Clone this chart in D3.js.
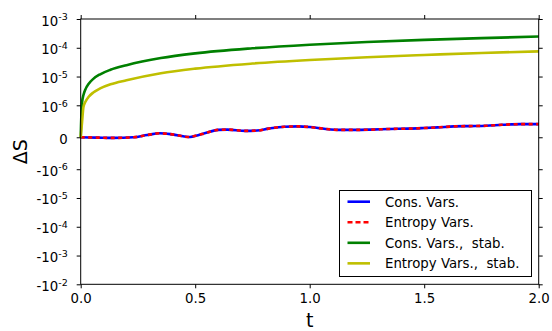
<!DOCTYPE html>
<html><head><meta charset="utf-8">
<script src="https://cdn.jsdelivr.net/npm/d3@7"></script>
<style>
body{margin:0;background:#fff}
text{font-family:"DejaVu Sans",sans-serif}
</style></head>
<body><svg id="c" width="552" height="331"></svg>
<script>
// ---- data ----
const tOsc = [0, 0.07, 0.14, 0.23, 0.29, 0.345, 0.4, 0.47, 0.53, 0.6, 0.64, 0.72, 0.77, 0.82, 0.89, 0.95, 1.0, 1.07, 1.14, 1.2, 1.27, 1.35, 1.43, 1.5, 1.56, 1.63, 1.7, 1.77, 1.84, 1.92, 2.0];
const consVars = [0, -0.01e-6, -0.02e-6, 0.0, 0.07e-6, 0.125e-6, 0.09e-6, 0.01e-6, 0.1e-6, 0.23e-6, 0.24e-6, 0.2e-6, 0.21e-6, 0.27e-6, 0.33e-6, 0.34e-6, 0.32e-6, 0.26e-6, 0.23e-6, 0.23e-6, 0.24e-6, 0.26e-6, 0.27e-6, 0.29e-6, 0.31e-6, 0.34e-6, 0.35e-6, 0.36e-6, 0.39e-6, 0.41e-6, 0.41e-6];
const entropyVars = [0, -0.01e-6, -0.02e-6, 0.0, 0.07e-6, 0.125e-6, 0.09e-6, 0.01e-6, 0.1e-6, 0.23e-6, 0.24e-6, 0.2e-6, 0.21e-6, 0.27e-6, 0.33e-6, 0.34e-6, 0.32e-6, 0.26e-6, 0.23e-6, 0.23e-6, 0.24e-6, 0.26e-6, 0.27e-6, 0.29e-6, 0.31e-6, 0.34e-6, 0.35e-6, 0.36e-6, 0.39e-6, 0.41e-6, 0.41e-6];
const tStab = [0, 0.0015, 0.003, 0.006, 0.012, 0.02, 0.035, 0.055, 0.085, 0.13, 0.2, 0.35, 0.5, 0.75, 1.0, 1.25, 1.5, 1.75, 2.0];
const consVarsStab = [0, 4e-7, 7e-7, 1.26e-6, 2.27e-6, 3.5e-6, 5.6e-6, 8.3e-6, 1.2e-5, 1.72e-5, 2.48e-5, 4.4e-5, 6.4e-5, 9.6e-5, 1.28e-4, 1.58e-4, 1.88e-4, 2.17e-4, 2.45e-4];
const entropyVarsStab = [0, 1.2e-7, 2.4e-7, 4.8e-7, 9.5e-7, 1.3e-6, 1.98e-6, 2.79e-6, 3.87e-6, 5.35e-6, 7.4e-6, 1.3e-5, 1.88e-5, 2.83e-5, 3.77e-5, 4.7e-5, 5.6e-5, 6.6e-5, 7.5e-5];
const xTicks = [0, 0.5, 1.0, 1.5, 2.0];
const yTicks = [1e-3, 1e-4, 1e-5, 1e-6, 0, -1e-6, -1e-5, -1e-4, -1e-3, -1e-2];
const legendLabels = ["Cons. Vars.", "Entropy Vars.", "Cons. Vars.,  stab.", "Entropy Vars.,  stab."];

// ---- layout ----
const L = 80.7, R = 538.7, T = 19, B = 284.3;
const svg = d3.select("#c");

// symlog transform (linthresh 1e-6, linscale 1, base 10)
const lin = 1e-6, lscale = 1 / (1 - 1 / 10);
function sym(v) {
  const a = Math.abs(v);
  if (a <= lin) return v / lin * lscale;
  return Math.sign(v) * (lscale + Math.log10(a / lin));
}
const x = d3.scaleLinear().domain([0, 2]).range([L, R]);
const yLin = d3.scaleLinear().domain([sym(-1e-2), sym(1e-3)]).range([B, T]);
function makeY() {
  const s = v => yLin(sym(v));
  s.domain = () => [-1e-2, 1e-3];
  s.range = () => yLin.range();
  s.copy = () => makeY();
  return s;
}
const y = makeY();

// ---- lines ----
function drawLine(ts, vs, color, dash) {
  const line = d3.line().x((d, i) => x(ts[i])).y(d => y(d)).curve(d3.curveMonotoneX);
  const p = svg.append("path").datum(vs).attr("d", line)
    .attr("fill", "none").attr("stroke", color).attr("stroke-width", 2.6);
  if (dash) p.attr("stroke-dasharray", dash);
}
drawLine(tOsc, consVars, "#0000ff");
drawLine(tOsc, entropyVars, "#ff0000", "4,3.5");
drawLine(tStab, consVarsStab, "#008000");
drawLine(tStab, entropyVarsStab, "#bfbf00");

// ---- frame ----
svg.append("rect").attr("x", L).attr("y", T).attr("width", R - L).attr("height", B - T)
  .attr("fill", "none").attr("stroke", "#000").attr("stroke-width", 1);

// ---- axes ----
function fmtY(g) {
  g.selectAll(".tick text").each(function(d) {
    const t = d3.select(this).text("");
    if (d === 0) { t.text("0"); return; }
    const e = Math.round(Math.log10(Math.abs(d)));
    t.append("tspan").text((d < 0 ? "-" : "") + "10");
    t.append("tspan").attr("dy", "-0.55em").attr("font-size", "9.5px").text(String(e));
  });
}
const ax = svg.append("g").attr("transform", `translate(0,${B})`)
  .call(d3.axisBottom(x).tickValues(xTicks).tickFormat(d3.format(".1f")).tickSize(4).tickPadding(5));
const axTop = svg.append("g").attr("transform", `translate(0,${T})`)
  .call(d3.axisTop(x).tickValues(xTicks).tickSize(4).tickFormat(""));
const ay = svg.append("g").attr("transform", `translate(${L},0)`)
  .call(d3.axisLeft(y).tickValues(yTicks).tickSize(4).tickPadding(9));
fmtY(ay);
const ayR = svg.append("g").attr("transform", `translate(${R},0)`)
  .call(d3.axisRight(y).tickValues(yTicks).tickSize(4).tickFormat(""));
[ax, axTop, ay, ayR].forEach(g => {
  g.select(".domain").remove();
  g.selectAll(".tick line").attr("stroke", "#000");
  g.selectAll(".tick text").attr("fill", "#000").style("font-size", "13.3px").style("font-family", "DejaVu Sans");
});
ay.selectAll(".tick text").attr("dy", "0.45em");

// axis labels
svg.append("text").attr("x", (L + R) / 2).attr("y", 327).attr("text-anchor", "middle")
  .style("font-size", "19px").text("t");
svg.append("text").attr("transform", `translate(27,${(T + B) / 2}) rotate(-90)`)
  .attr("text-anchor", "middle").style("font-size", "19px").text("ΔS");

// ---- legend ----
const lg = svg.append("g");
lg.append("rect").attr("x", 339.5).attr("y", 190.5).attr("width", 192).attr("height", 86)
  .attr("fill", "#fff").attr("stroke", "#000").attr("stroke-width", 1);
const lgColors = ["#0000ff", "#ff0000", "#008000", "#bfbf00"];
legendLabels.forEach((lab, i) => {
  const yy = 201.7 + i * 20.55;
  const l = lg.append("line").attr("x1", 347.5).attr("x2", 370).attr("y1", yy).attr("y2", yy)
    .attr("stroke", lgColors[i]).attr("stroke-width", 2.6);
  if (i === 1) l.attr("stroke-dasharray", "5,3");
  lg.append("text").attr("x", 385).attr("y", yy + 4.8).style("font-size", "13.3px")
    .style("white-space", "pre").attr("xml:space", "preserve").text(lab);
});
</script></body></html>
